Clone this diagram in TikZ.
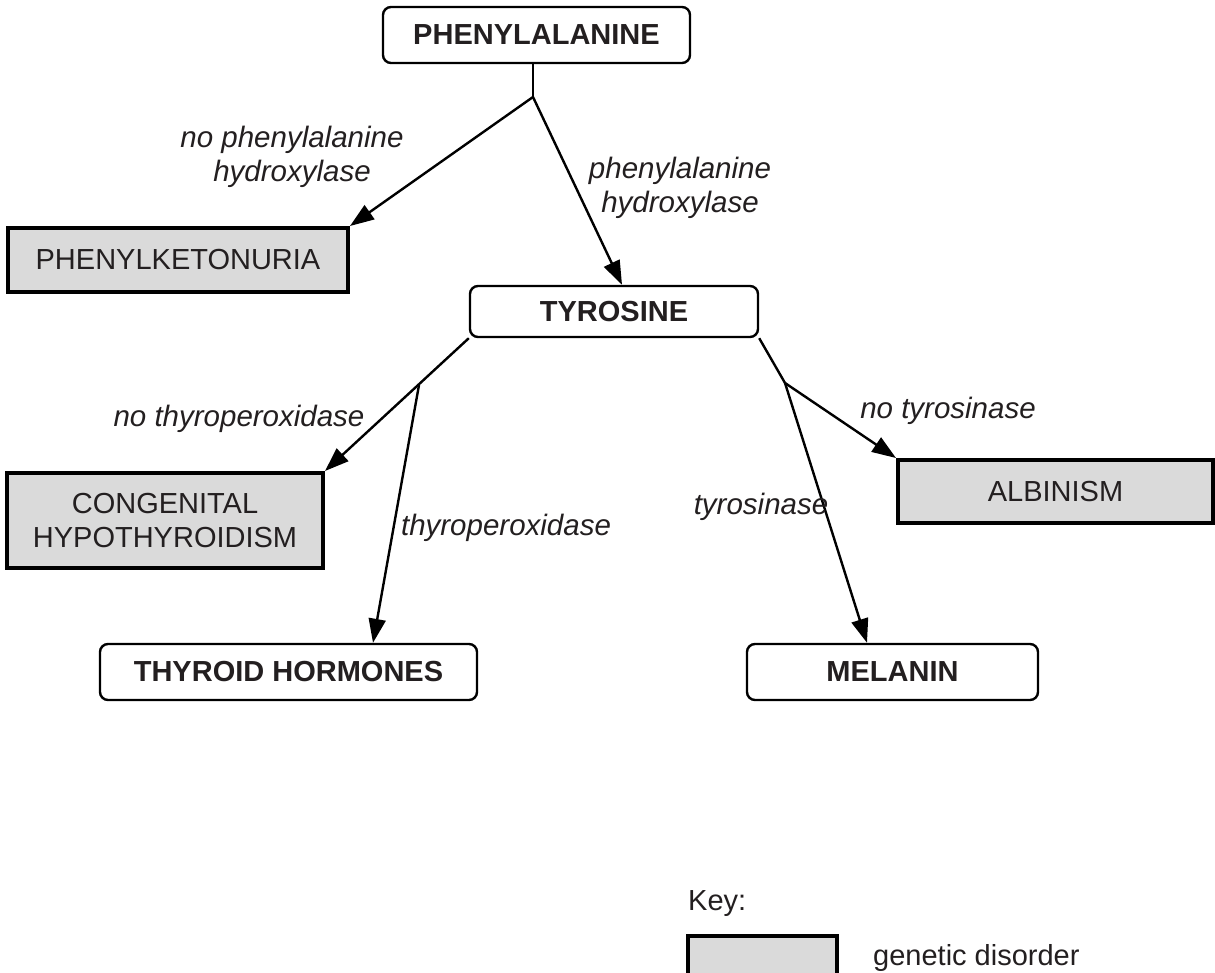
\documentclass[tikz,border=0pt]{standalone}
\usepackage{fontspec}
\setmainfont{Liberation Sans}
\usetikzlibrary{arrows.meta}
\definecolor{ink}{HTML}{231F20}
\definecolor{disfill}{HTML}{DADADA}
\begin{document}
\begin{tikzpicture}[x=1pt,y=-1pt,
  every node/.style={font=\fontsize{29}{34}\selectfont, text=ink, inner sep=0pt},
  compound/.style={draw=black, line width=2.4pt, rounded corners=8pt, fill=white, font=\fontsize{29}{34}\selectfont\bfseries},
  disorder/.style={draw=black, line width=4pt, fill=disfill, align=center},
  conn/.style={line width=2.4pt, draw=black},
  arr/.style={conn, -{Triangle[length=24pt,width=17pt]}},
  lab/.style={font=\fontsize{29.5}{34}\selectfont\itshape, align=center}
]
\clip (0,0) rectangle (1215,973);
\fill[white] (0,0) rectangle (1215,973);

% nodes
\node[compound, minimum width=307pt, minimum height=56pt] (phe) at (536.5,35) {PHENYLALANINE};
\node[disorder, minimum width=340pt, minimum height=64pt] (pku) at (178,260) {PHENYLKETONURIA};
\node[compound, minimum width=288pt, minimum height=51pt] (tyr) at (614,311.5) {TYROSINE};
\node[disorder, minimum width=316pt, minimum height=95pt] (cong) at (165,520.5) {CONGENITAL\\HYPOTHYROIDISM};
\node[compound, minimum width=377pt, minimum height=56pt] (thy) at (288.5,672) {THYROID HORMONES};
\node[disorder, minimum width=315pt, minimum height=63pt] (alb) at (1055.5,491.5) {ALBINISM};
\node[compound, minimum width=291pt, minimum height=56pt] (mel) at (892.5,672) {MELANIN};

% junctions
\coordinate (j1) at (533,97);
\coordinate (b1) at (419,385);
\coordinate (b2) at (785,383);

% connectors
\draw[conn] (phe.south -| j1) -- (j1);
\draw[arr] (j1) -- (pku.north east);
\draw[arr] (j1) -- ([xshift=8pt]tyr.north);
\draw[arr] (tyr.south west) -- (cong.north east);
\draw[arr] (b1) -- ([xshift=84.5pt]thy.north);
\draw[conn] (tyr.south east) -- (b2);
\draw[arr] (b2) -- (alb.north west);
\draw[arr] (b2) -- ([xshift=-25.5pt]mel.north);

% labels
\node[lab] (l1) at (292,157) {no phenylalanine\\hydroxylase};
\node[lab] (l2) at (680,188) {phenylalanine\\hydroxylase};
\node[lab] (l3) at (239,419) {no thyroperoxidase};
\node[lab] (l4) at (506,528) {thyroperoxidase};
\node[lab] (l5) at (948,411) {no tyrosinase};
\node[lab] (l6) at (761,507) {tyrosinase};

% key
\node[anchor=west] (key) at (688,904) {Key:};
\draw[line width=4pt, fill=disfill] (688,936) rectangle (837,1000);
\node[anchor=west] (gd) at (873,958) {genetic disorder};
\end{tikzpicture}
\end{document}
